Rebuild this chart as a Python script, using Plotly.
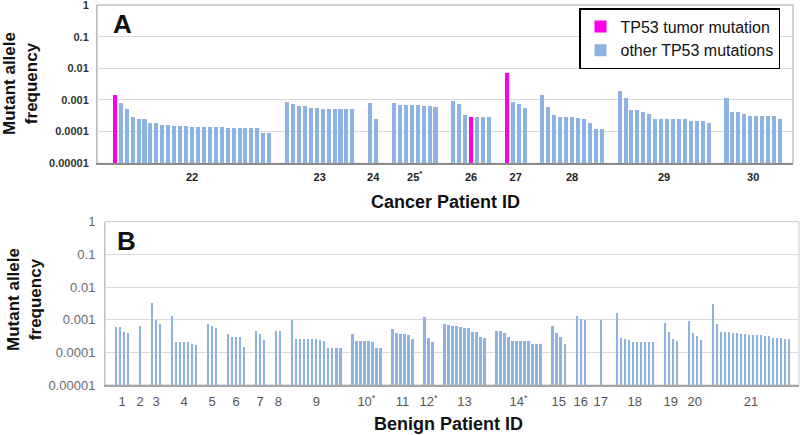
import plotly.graph_objects as go

W, H = 800, 435

# ---------------- Panel A data (cancer patients) ----------------
cancer_ids = ["22", "23", "24", "25", "26", "27", "28", "29", "30"]
cancer_labels = ["22", "23", "24", "25<sup>*</sup>", "26", "27", "28", "29", "30"]
p22 = [0.00144, 0.00078, 0.00051, 0.00028, 0.00026, 0.00025, 0.00019, 0.00019, 0.000162,
       0.000162, 0.00015, 0.00015, 0.00015, 0.000144, 0.000144, 0.000144, 0.000144, 0.000144,
       0.000144, 0.000128, 0.000128, 0.000128, 0.000128, 0.000128, 0.000128, 0.0000935, 0.0000935]
p23 = [0.00084, 0.00075, 0.00066, 0.00066, 0.00056, 0.00056, 0.00051, 0.00051, 0.00051,
       0.00051, 0.00051, 0.00051]
p24 = [0.00078, 0.00026]
p25 = [0.00078, 0.00071, 0.00071, 0.00068, 0.00068, 0.00063, 0.00063, 0.00059]
p26 = [0.00095, 0.00077, 0.00034, 0.0003, 0.0003, 0.0003, 0.0003]
p27 = [0.0073, 0.00084, 0.00073, 0.00055]
p28 = [0.00144, 0.00062, 0.000336, 0.0003, 0.00028, 0.00028, 0.000264, 0.00025, 0.00019,
       0.000119, 0.000119]
p29 = [0.0019, 0.00113, 0.00048, 0.00048, 0.00043, 0.00037, 0.00026, 0.000245, 0.000245,
       0.000245, 0.000245, 0.000245, 0.000217, 0.000217, 0.000217, 0.00019]
p30 = [0.00113, 0.00043, 0.00043, 0.00037, 0.00032, 0.00032, 0.00032, 0.00032, 0.00032, 0.00026]
cancer_values = [p22, p23, p24, p25, p26, p27, p28, p29, p30]
# index of the tumor mutation within each patient's list
tumor_index = {"22": 0, "26": 3, "27": 0}

# ---------------- Panel B data (benign patients) ----------------
benign_ids = [str(i) for i in range(1, 22)]
benign_labels = ["1", "2", "3", "4", "5", "6", "7", "8", "9", "10<sup>*</sup>", "11",
                 "12<sup>*</sup>", "13", "14<sup>*</sup>", "15", "16", "17", "18", "19", "20", "21"]
b1 = [0.0006, 0.0006, 0.00042, 0.0004]
b2 = [0.00065]
b3 = [0.0032, 0.001, 0.00074]
b4 = [0.00133, 0.00021, 0.00021, 0.00021, 0.00021, 0.00018, 0.00017]
b5 = [0.00077, 0.00067, 0.00057]
b6 = [0.00036, 0.00031, 0.00031, 0.00031, 0.000153]
b7 = [0.00047, 0.00038, 0.00024]
b8 = [0.00046, 0.00046]
b9 = [0.001, 0.00026, 0.00026, 0.00026, 0.00026, 0.00026, 0.00026, 0.00024, 0.00023,
      0.000136, 0.000136, 0.000136, 0.000136]
b10 = [0.00038, 0.00023, 0.00023, 0.00023, 0.00022, 0.00021, 0.000142, 0.000142]
b11 = [0.00052, 0.00041, 0.00036, 0.00036, 0.00035, 0.00026]
b12 = [0.0012, 0.000275, 0.00021]
b13 = [0.00074, 0.0007, 0.00067, 0.00067, 0.00062, 0.00058, 0.00058, 0.00042, 0.00042,
       0.00031, 0.000275]
b14 = [0.00046, 0.00046, 0.00039, 0.00031, 0.00022, 0.00022, 0.00022, 0.00022, 0.00022,
       0.00019, 0.00019, 0.00019]
b15 = [0.00067, 0.00039, 0.0003, 0.00019]
b16 = [0.00132, 0.00105, 0.001]
b17 = [0.001]
b18 = [0.0016, 0.000275, 0.00026, 0.00024, 0.000207, 0.000207, 0.000207, 0.000207,
       0.000207, 0.000207]
b19 = [0.00079, 0.00042, 0.00026, 0.00023]
b20 = [0.00093, 0.00039, 0.00033, 0.00024]
b21 = [0.0031, 0.00074, 0.00044, 0.00042, 0.00042, 0.0004, 0.0004, 0.00036, 0.00036,
       0.00035, 0.00035, 0.00035, 0.00035, 0.00033, 0.00033, 0.000275, 0.000275, 0.000275,
       0.00026, 0.00026]
benign_values = [b1, b2, b3, b4, b5, b6, b7, b8, b9, b10, b11, b12, b13, b14, b15, b16,
                 b17, b18, b19, b20, b21]

y_tickvals = [1e-5, 1e-4, 1e-3, 1e-2, 1e-1, 1]
y_ticktext = ["0.00001", "0.0001", "0.001", "0.01", "0.1", "1"]

BLUE = "#8db3e2"
MAGENTA = "#ff00e6"


def layout_groups(groups, ids, gaps):
    """Return x positions for each value and the centre of each group."""
    xs, centers = [], []
    pos = 0
    for gi, vals in enumerate(groups):
        if gi > 0:
            pos += gaps.get(ids[gi], 2)
        start = pos
        gx = []
        for _ in vals:
            gx.append(pos)
            pos += 1
        pos -= 1
        xs.append(gx)
        centers.append((start + pos) / 2)
        pos += 1
    return xs, centers


# positions panel A
a_x, a_centers = layout_groups(cancer_values, cancer_ids, {})
a_tx, a_ty, a_ox, a_oy = [], [], [], []
for pid, gx, vals in zip(cancer_ids, a_x, cancer_values):
    for i, (x, v) in enumerate(zip(gx, vals)):
        if tumor_index.get(pid) == i:
            a_tx.append(x); a_ty.append(v)
        else:
            a_ox.append(x); a_oy.append(v)

# positions panel B
b_x, b_centers = layout_groups(benign_values, benign_ids, {"17": 3, "18": 3})
b_xx = [x for gx in b_x for x in gx]
b_yy = [v for vals in benign_values for v in vals]

fig = go.Figure()
fig.add_trace(go.Bar(x=a_tx, y=a_ty, name="TP53 tumor mutation", marker_color=MAGENTA,
                     width=0.68, xaxis="x", yaxis="y", marker_line_width=0))
fig.add_trace(go.Bar(x=a_ox, y=a_oy, name="other TP53 mutations", marker_color=BLUE,
                     width=0.68, xaxis="x", yaxis="y", marker_line_width=0))
fig.add_trace(go.Bar(x=b_xx, y=b_yy, name="benign", marker_color=BLUE, showlegend=False,
                     width=0.58, xaxis="x2", yaxis="y2", marker_line_width=0))


def px_x(p):
    return p / W


def px_y(p):
    return 1 - p / H


FONT = "Liberation Sans, Arial, sans-serif"

fig.update_layout(
    width=W, height=H,
    margin=dict(l=0, r=0, t=0, b=0, autoexpand=False),
    paper_bgcolor="white", plot_bgcolor="white",
    font=dict(family=FONT),
    barmode="overlay",
    bargap=0,
    xaxis=dict(domain=[px_x(97), px_x(793)], range=[-3, 114.2], tickvals=a_centers,
               ticktext=cancer_labels, showgrid=False, zeroline=False, showline=True,
               linecolor="#8c8c8c", linewidth=2, ticks="", ticklabelstandoff=2,
               tickfont=dict(size=11, color="#222222", weight="bold"), anchor="y",
               automargin=False, ticklabeloverflow="allow"),
    yaxis=dict(domain=[px_y(163.3), px_y(5)], type="log", range=[-5, 0], tickvals=y_tickvals,
               ticktext=y_ticktext, showgrid=True, gridcolor="#d9d9d9", gridwidth=1,
               showline=True, linecolor="#bfbfbf", linewidth=1, ticks="", zeroline=False,
               tickfont=dict(size=11, color="#333333", weight="bold"), anchor="x",
               ticklabelstandoff=5, automargin=False, ticklabeloverflow="allow"),
    xaxis2=dict(domain=[px_x(105), px_x(799)], range=[-2.75, 170.5], tickvals=b_centers,
                ticktext=benign_labels, showgrid=False, zeroline=False, showline=True,
                linecolor="#a6a6a6", linewidth=1.5, ticks="", ticklabelstandoff=4,
                tickfont=dict(size=13, color="#555555"), anchor="y2", automargin=False,
                ticklabeloverflow="allow"),
    yaxis2=dict(domain=[px_y(385), px_y(221.7)], type="log", range=[-5, 0],
                tickvals=y_tickvals, ticktext=y_ticktext, showgrid=True, gridcolor="#d9d9d9",
                gridwidth=1, showline=True, linecolor="#bfbfbf", linewidth=1, ticks="",
                zeroline=False, tickfont=dict(size=13, color="#6a6a6a"), anchor="x2",
                ticklabelstandoff=6, automargin=False, ticklabeloverflow="allow"),
    legend=dict(x=px_x(579), y=px_y(8), xanchor="left", yanchor="top",
                bordercolor="#000000", borderwidth=1.5, bgcolor="white",
                font=dict(size=16, color="#111111"), tracegroupgap=0),
    showlegend=True,
)

# frames
fig.add_shape(type="rect", xref="x domain", yref="y domain", x0=0, x1=1, y0=0, y1=1,
              line=dict(color="#a6a6a6", width=1), layer="below")
fig.add_shape(type="rect", xref="x2 domain", yref="y2 domain", x0=0, x1=1, y0=0, y1=1,
              line=dict(color="#c8c8c8", width=1), layer="below")

# titles and panel letters
ann = [
    dict(text="<b>Mutant allele<br>frequency</b>", x=px_x(21), y=px_y(84), textangle=-90,
         font=dict(size=17, color="#111111")),
    dict(text="<b>Mutant allele<br>frequency</b>", x=px_x(24), y=px_y(300), textangle=-90,
         font=dict(size=17, color="#111111")),
    dict(text="<b>Cancer Patient ID</b>", x=px_x(445), y=px_y(202),
         font=dict(size=18, color="#111111")),
    dict(text="<b>Benign Patient ID</b>", x=px_x(448), y=px_y(424),
         font=dict(size=18, color="#111111")),
    dict(text="<b>A</b>", x=px_x(122), y=px_y(24), font=dict(size=26, color="#111111")),
    dict(text="<b>B</b>", x=px_x(126), y=px_y(241), font=dict(size=26, color="#111111")),
]
for a in ann:
    a.update(xref="paper", yref="paper", showarrow=False, xanchor="center", yanchor="middle")
    fig.add_annotation(**a)

fig.write_html("out.html", config={"displayModeBar": False},
               post_script="document.body.style.margin='0px';"
               "document.body.style.overflow='hidden';")
